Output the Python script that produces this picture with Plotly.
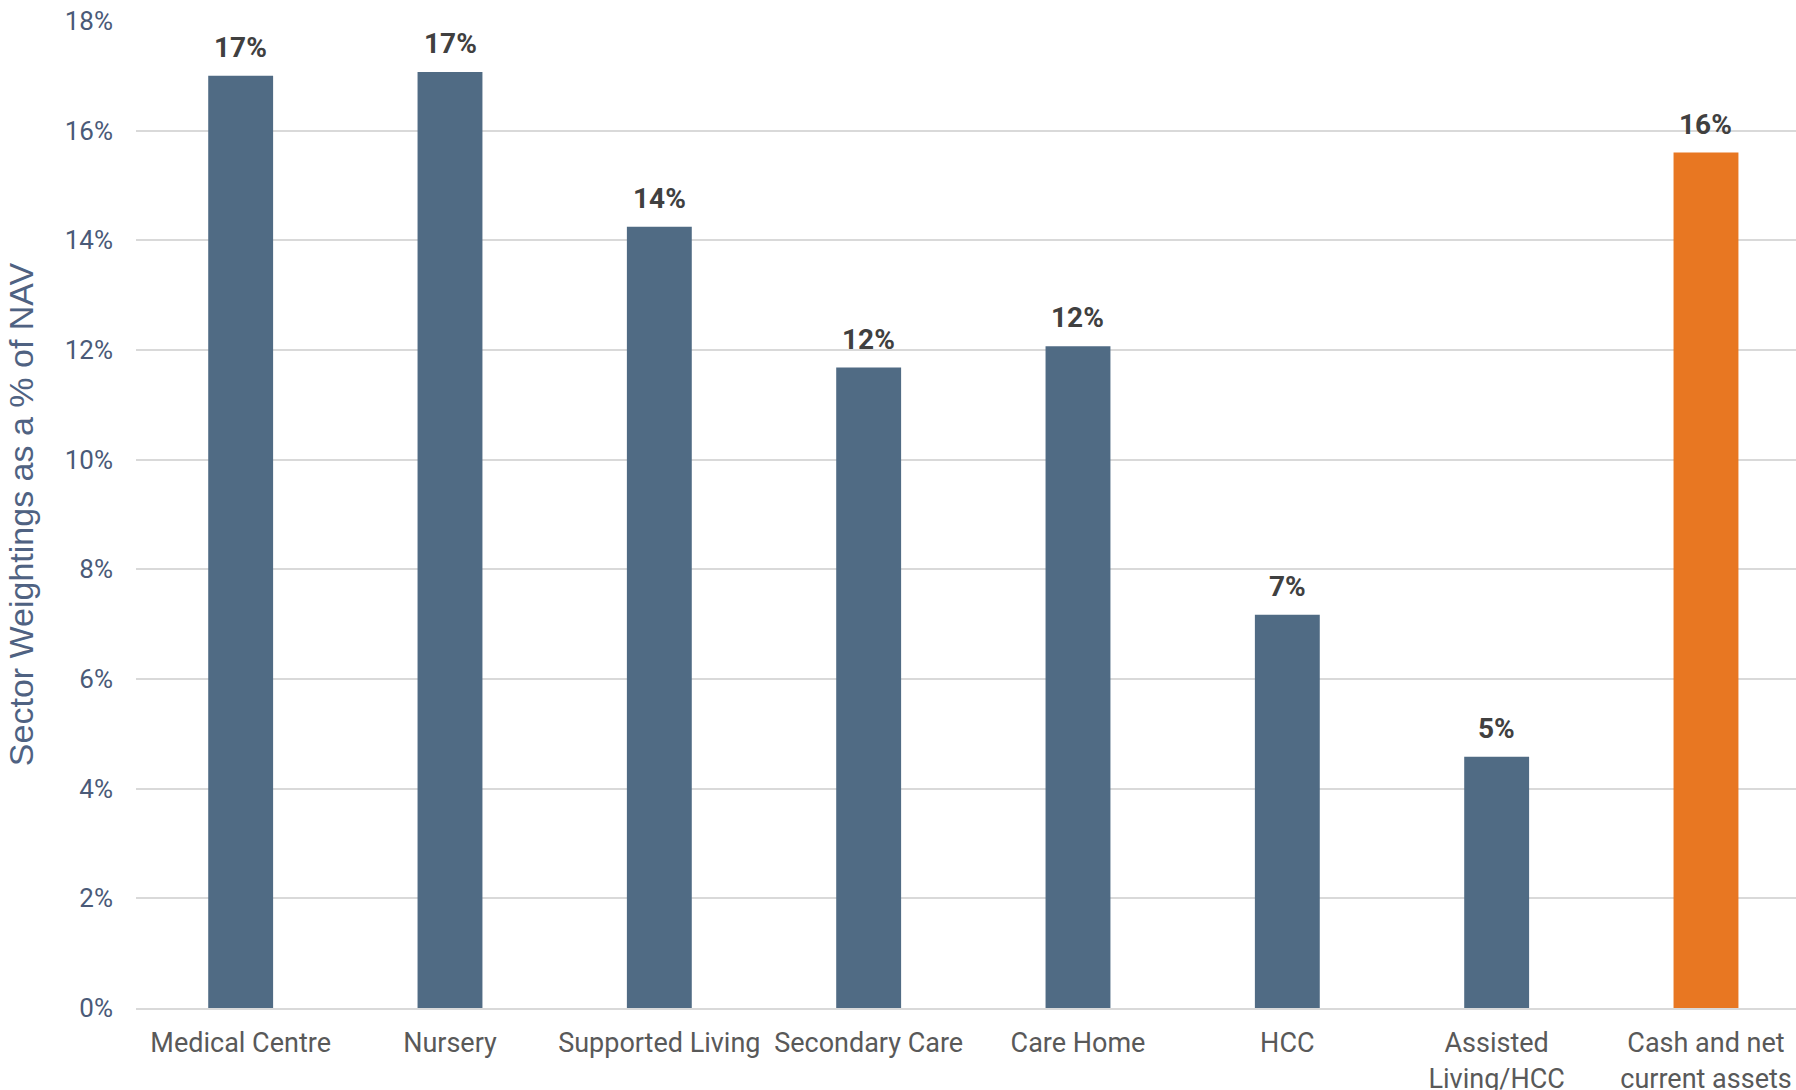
import plotly.graph_objects as go

categories = ["Medical Centre", "Nursery", "Supported Living", "Secondary Care",
              "Care Home", "HCC", "Assisted<br>Living/HCC", "Cash and net<br>current assets"]
weights = [17.0, 17.07, 14.25, 11.68, 12.07, 7.17, 4.58, 15.6]
labels = ["17%", "17%", "14%", "12%", "12%", "7%", "5%", "16%"]
bar_colors = ["#506b84"] * 7 + ["#e87722"]
tick_vals = [0, 2, 4, 6, 8, 10, 12, 14, 16, 18]
tick_text = ["0%", "2%", "4%", "6%", "8%", "10%", "12%", "14%", "16%", "18%"]

xs = list(range(len(categories)))

fig = go.Figure(go.Bar(
    x=xs,
    y=weights,
    marker=dict(color=bar_colors, line=dict(width=0)),
    hoverinfo="skip",
))

for xi, yi, lab in zip(xs, weights, labels):
    fig.add_annotation(
        x=xi, y=yi, text=lab, showarrow=False,
        xanchor="center", yanchor="bottom", yshift=10,
        font=dict(family="Roboto", size=28, color="#404040", weight="bold"),
    )

fig.update_layout(
    width=1796, height=1090,
    margin=dict(l=136, r=0, t=21, b=82),
    paper_bgcolor="white", plot_bgcolor="white",
    bargap=0.69,
    showlegend=False,
    xaxis=dict(
        tickmode="array",
        tickvals=xs,
        ticktext=categories,
        range=[-0.5, 7.43],
        automargin=False,
        tickfont=dict(family="Roboto", size=27, color="#595959"),
        showline=True, linecolor="#d9d9d9", linewidth=2,
        showgrid=False, ticks="", ticklabelstandoff=10,
    ),
    yaxis=dict(
        range=[0, 18],
        automargin=False,
        tickmode="array", tickvals=tick_vals, ticktext=tick_text,
        tickfont=dict(family="Roboto", size=26, color="#4a5a78"),
        showgrid=True, gridcolor="#d9d9d9", gridwidth=2,
        zeroline=False, ticks="", ticklabelstandoff=22,
        title=dict(text="Sector Weightings as a % of NAV",
                   font=dict(family="Liberation Sans", size=34, color="#4f6282"),
                   standoff=20),
    ),
)

fig.write_html("out.html", config={"displayModeBar": False},
               post_script="document.body.style.margin='0';")
